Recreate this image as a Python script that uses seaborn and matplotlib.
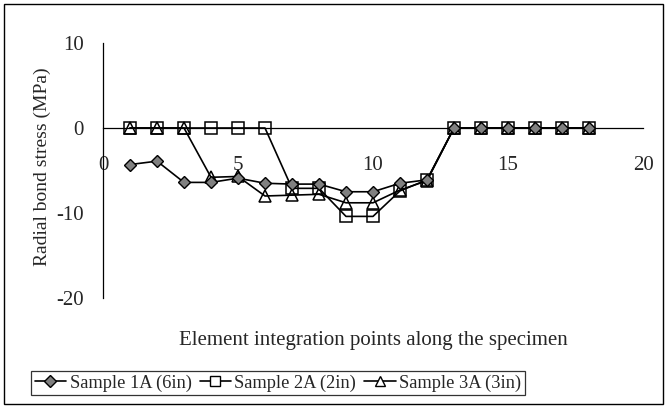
import numpy as np
import pandas as pd
import matplotlib
matplotlib.use("Agg")
import matplotlib.pyplot as plt
import seaborn as sns
from matplotlib.lines import Line2D
from matplotlib.patches import Rectangle

# Integration point index along the specimen
points = list(range(1, 19))

# Radial bond stress (MPa) at each integration point
sample_1a = [-4.3, -3.9, -6.4, -6.4, -5.9, -6.5, -6.6, -6.6, -7.5, -7.5,
             -6.5, -6.1, 0, 0, 0, 0, 0, 0]
sample_2a = [0, 0, 0, 0, 0, 0, -7.1, -7.1, -10.4, -10.4,
             -7.4, -6.1, 0, 0, 0, 0, 0, 0]
sample_3a = [0, 0, 0, -5.8, -5.7, -8.0, -7.9, -7.8, -8.8, -8.8,
             -7.3, -6.2, 0, 0, 0, 0, 0, 0]

series_names = ["Sample 1A (6in)", "Sample 2A (2in)", "Sample 3A (3in)"]

df = pd.DataFrame({
    "x": points * 3,
    "y": sample_1a + sample_2a + sample_3a,
    "series": [series_names[0]] * 18 + [series_names[1]] * 18 + [series_names[2]] * 18,
})

sns.set_style("white")
plt.rcParams["font.family"] = ["Liberation Serif", "DejaVu Serif"]
plt.rcParams["font.size"] = 15
plt.rcParams["axes.unicode_minus"] = False

FS = 15

fig = plt.figure(figsize=(6.67, 4.08), dpi=100)
ax = fig.add_axes([103 / 667, 1 - 298 / 408, 540 / 667, 255 / 408])

styles = {
    series_names[1]: dict(marker="s", ms=8, mfc="none", mec="black", mew=1.1),
    series_names[2]: dict(marker="^", ms=8.5, mfc="none", mec="black", mew=1.1),
    series_names[0]: dict(marker="D", ms=6.5, mfc="#808080", mec="black", mew=1.0),
}
# squares and triangles first, diamonds on top
for name in [series_names[1], series_names[2], series_names[0]]:
    st = styles[name]
    sns.lineplot(data=df[df["series"] == name], x="x", y="y", ax=ax,
                 color="black", lw=1.2, marker=st["marker"], markersize=st["ms"],
                 markerfacecolor=st["mfc"], markeredgecolor=st["mec"],
                 markeredgewidth=st["mew"], legend=False, zorder=3)

ax.set_xlim(0, 20)
ax.set_ylim(-20, 10)
ax.set_xticks([0, 5, 10, 15, 20])
ax.set_yticks([-20, -10, 0, 10])
ax.spines["top"].set_visible(False)
ax.spines["right"].set_visible(False)
ax.spines["bottom"].set_position(("data", 0))
for s in ["left", "bottom"]:
    ax.spines[s].set_color("black")
    ax.spines[s].set_linewidth(0.9)
ax.tick_params(axis="x", direction="out", length=5, width=0.9, pad=15, labelsize=FS)
ax.tick_params(axis="y", direction="out", length=5, width=0.9, pad=9, labelsize=FS)
ax.set_xlabel("")
ax.set_ylabel("Radial bond stress (MPa)", fontsize=14, va="center")
ax.yaxis.set_label_coords((42 - 103) / 540, 0.515)

fig.text(373 / 667, 1 - 341 / 408, "Element integration points along the specimen",
         ha="center", va="center", fontsize=FS)

handles = [
    Line2D([], [], color="black", lw=1.2, marker="D", ms=6, mfc="#808080", mec="black"),
    Line2D([], [], color="black", lw=1.2, marker="s", ms=7, mfc="white", mec="black"),
    Line2D([], [], color="black", lw=1.2, marker="^", ms=7, mfc="white", mec="black"),
]
leg = fig.legend(handles, series_names, loc="center", ncol=3,
                 bbox_to_anchor=(278 / 667, 1 - 383 / 408), frameon=True,
                 fancybox=False, edgecolor="black", fontsize=13.2,
                 handlelength=1.7, handletextpad=0.2, columnspacing=0.45,
                 borderpad=0.2, borderaxespad=0)
leg.get_frame().set_linewidth(0.9)

fig.patches.append(Rectangle((4 / 667, 4 / 408), 659 / 667, 400 / 408,
                             transform=fig.transFigure, fill=False,
                             edgecolor="black", linewidth=1.0))

fig.savefig("out.png", dpi=100)
